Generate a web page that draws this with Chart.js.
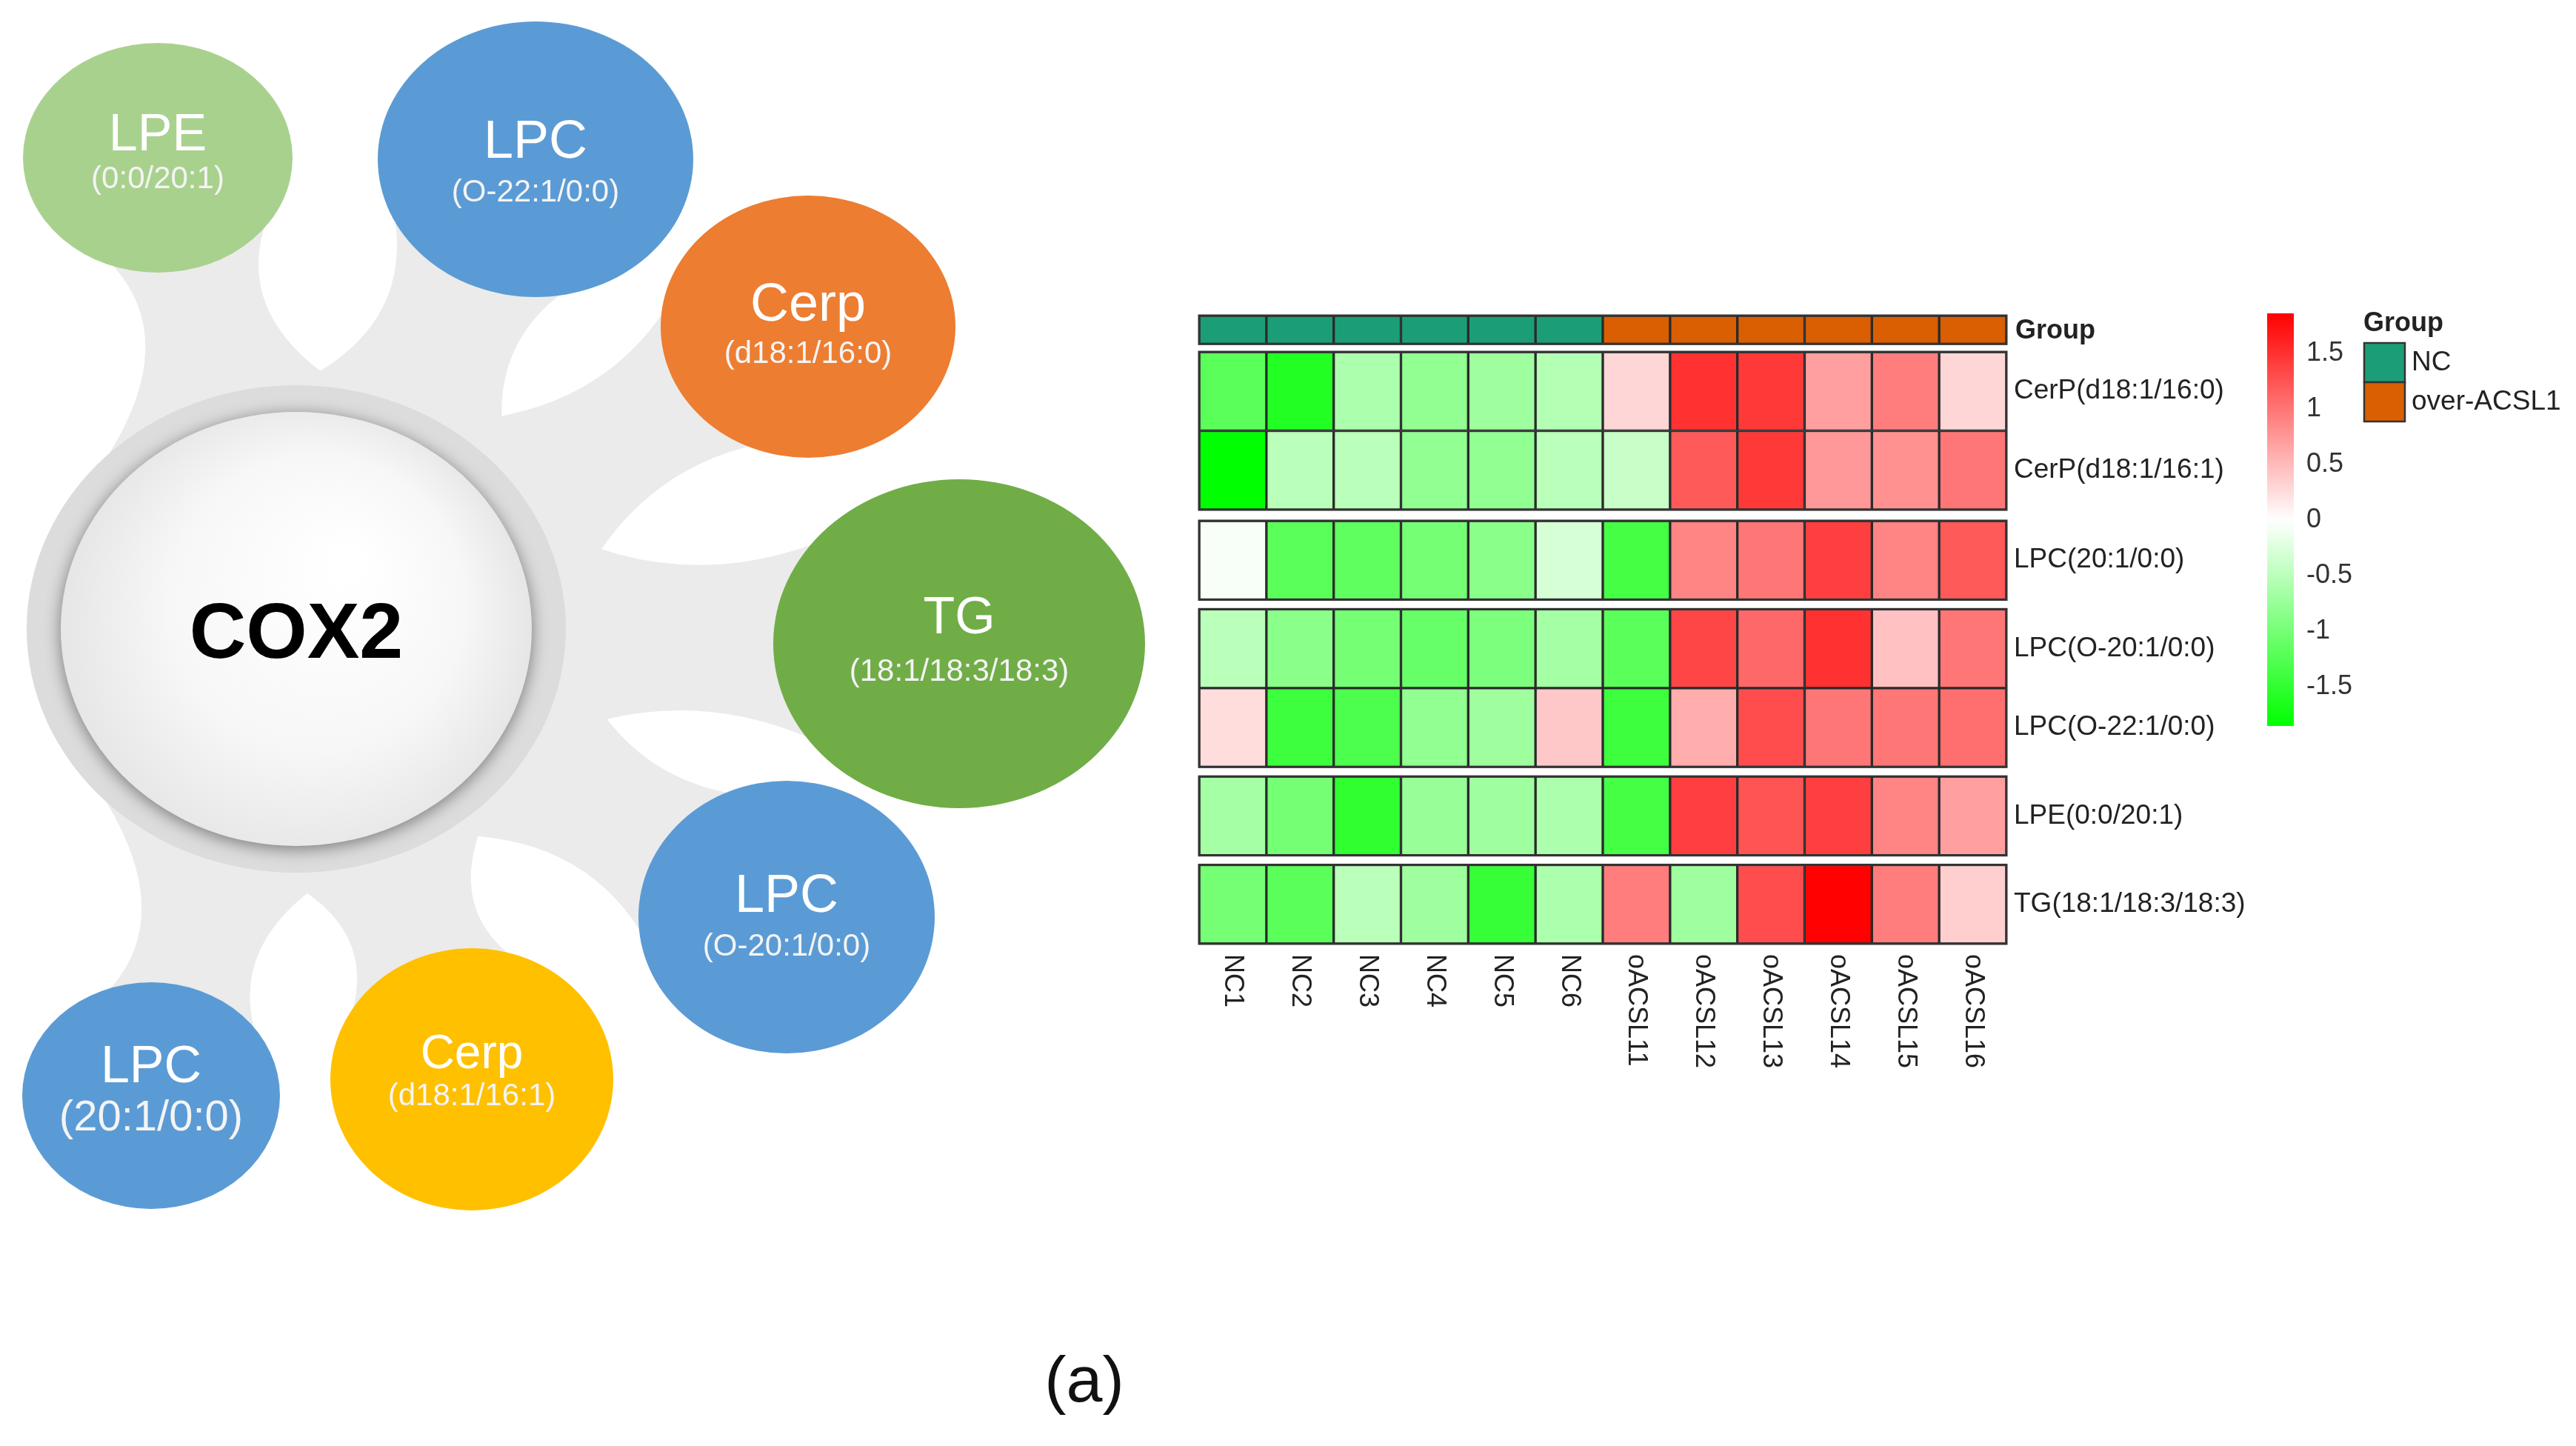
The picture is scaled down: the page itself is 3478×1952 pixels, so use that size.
<!DOCTYPE html>
<html>
<head>
<meta charset="utf-8">
<script src="https://cdn.jsdelivr.net/npm/chart.js@4.4.0/dist/chart.umd.min.js"></script>
<style>
  html, body { margin: 0; padding: 0; background: #fff; }
  canvas { display: block; }
</style>
</head>
<body>
<canvas id="fig" width="3478" height="1952"></canvas>
<script>
/* ---- heatmap data (row z-scores) ---- */
const samples = ["NC1", "NC2", "NC3", "NC4", "NC5", "NC6",
                 "oACSL11", "oACSL12", "oACSL13", "oACSL14", "oACSL15", "oACSL16"];
const sampleGroup = ["NC", "NC", "NC", "NC", "NC", "NC",
                     "over-ACSL1", "over-ACSL1", "over-ACSL1", "over-ACSL1", "over-ACSL1", "over-ACSL1"];
const groupNames = ["NC", "over-ACSL1"];
const groupColors = ["#1b9e77", "#d95f02"];
const lipids = ["CerP(d18:1/16:0)", "CerP(d18:1/16:1)", "LPC(20:1/0:0)", "LPC(O-20:1/0:0)",
                "LPC(O-22:1/0:0)", "LPE(0:0/20:1)", "TG(18:1/18:3/18:3)"];

const cerp160 = [-1.2, -1.6, -0.6, -0.8, -0.7, -0.55, 0.3, 1.5, 1.45, 0.7, 0.95, 0.3];
const cerp161 = [-1.85, -0.5, -0.5, -0.8, -0.8, -0.5, -0.4, 1.2, 1.45, 0.75, 0.8, 1.0];
const lpc201 = [-0.05, -1.2, -1.15, -1.0, -0.85, -0.3, -1.35, 0.9, 1.0, 1.4, 0.9, 1.2];
const lpcO201 = [-0.5, -0.85, -1.0, -1.1, -0.95, -0.65, -1.2, 1.35, 1.1, 1.5, 0.45, 1.0];
const lpcO221 = [0.25, -1.4, -1.3, -0.8, -0.7, 0.4, -1.4, 0.6, 1.3, 1.0, 1.0, 1.05];
const lpe201 = [-0.65, -1.0, -1.5, -0.75, -0.7, -0.6, -1.35, 1.4, 1.25, 1.4, 0.9, 0.7];
const tg181 = [-1.0, -1.2, -0.5, -0.7, -1.45, -0.6, 0.95, -0.7, 1.3, 1.85, 0.95, 0.35];
const zRows = [cerp160, cerp161, lpc201, lpcO201, lpcO221, lpe201, tg181];

const colorTicks = [1.5, 1, 0.5, 0, -0.5, -1, -1.5];
const zMin = -1.85, zMax = 1.86;

/* ---- network panel text ---- */
const hubLabel = "COX2";
const bubbleNames = ["LPE", "LPC", "Cerp", "TG", "LPC", "Cerp", "LPC"];
const bubbleSubs = ["(0:0/20:1)", "(O-22:1/0:0)", "(d18:1/16:0)", "(18:1/18:3/18:3)",
                    "(O-20:1/0:0)", "(d18:1/16:1)", "(20:1/0:0)"];
const bubbleColors = ["#a9d18e", "#5b9bd5", "#ed7d31", "#70ad47", "#5b9bd5", "#ffc000", "#5b9bd5"];

/* ---- layout (pixels / row units) ---- */
const FONT = "'Liberation Sans', Arial, sans-serif";
const groupSpan = [0, 0.36];
const rowSpans = [[0.46, 1.46], [1.46, 2.46], [2.60, 3.60], [3.72, 4.72], [4.72, 5.72], [5.84, 6.84], [6.96, 7.96]];
const blocks = [[0, 0.36], [0.46, 2.46], [2.60, 3.60], [3.72, 5.72], [5.84, 6.84], [6.96, 7.96]];
const hub = { x: 400, y: 849, rx: 364, ry: 329, irx: 318, iry: 293 };
const bubbleLayout = [
    { x: 213, y: 213, rx: 182, ry: 155, ts: 70, ss: 42, ty: 184, sy: 242 },
    { x: 723, y: 215, rx: 213, ry: 186, ts: 72, ss: 42, ty: 193, sy: 260 },
    { x: 1091, y: 441, rx: 199, ry: 177, ts: 72, ss: 42, ty: 413, sy: 478 },
    { x: 1295, y: 869, rx: 251, ry: 222, ts: 70, ss: 42, ty: 836, sy: 907 },
    { x: 1062, y: 1238, rx: 200, ry: 184, ts: 72, ss: 42, ty: 1211, sy: 1278 },
    { x: 637, y: 1457, rx: 191, ry: 177, ts: 64, ss: 42, ty: 1424, sy: 1480 },
    { x: 204, y: 1479, rx: 174, ry: 153, ts: 70, ss: 58, ty: 1442, sy: 1510 }
];
const colorBar = { x: 3061, w: 36, top: 423, bottom: 980, labelX: 3114 };

/* green - white - red ramp */
function zColor(v) {
    if (v >= 0) {
        const t = Math.min(1, v / zMax);
        const c = Math.round(255 * (1 - t));
        return `rgb(255,${c},${c})`;
    }
    const t = Math.min(1, v / zMin);
    const c = Math.round(255 * (1 - t));
    return `rgb(${c},255,${c})`;
}

/* one grey stem from the hub ring to a bubble */
function drawStem(ctx, b) {
    const th = Math.atan2(b.y - hub.y, b.x - hub.x);
    const a = 0.48, be = 0.62;
    const ux = Math.cos(th), uy = Math.sin(th);
    const nx = -uy, ny = ux;
    const p1 = [hub.x + hub.rx * Math.cos(th - a), hub.y + hub.ry * Math.sin(th - a)];
    const p2 = [hub.x + hub.rx * Math.cos(th + a), hub.y + hub.ry * Math.sin(th + a)];
    const back = th + Math.PI;
    const q1 = [b.x + b.rx * Math.cos(back + be), b.y + b.ry * Math.sin(back + be)];
    const q2 = [b.x + b.rx * Math.cos(back - be), b.y + b.ry * Math.sin(back - be)];
    const e1x = hub.x + hub.rx * ux, e1y = hub.y + hub.ry * uy;
    const e2x = b.x - b.rx * ux, e2y = b.y - b.ry * uy;
    const mx = (e1x + e2x) / 2, my = (e1y + e2y) / 2;
    const w = 0.26 * Math.min(b.rx, b.ry);
    ctx.beginPath();
    ctx.moveTo(p1[0], p1[1]);
    ctx.quadraticCurveTo(mx - nx * w, my - ny * w, q1[0], q1[1]);
    ctx.lineTo(b.x, b.y);
    ctx.lineTo(q2[0], q2[1]);
    ctx.quadraticCurveTo(mx + nx * w, my + ny * w, p2[0], p2[1]);
    ctx.lineTo(hub.x, hub.y);
    ctx.closePath();
    ctx.fill();
}

const networkPlugin = {
    id: "network",
    beforeDatasetsDraw(chart) {
        const ctx = chart.ctx;
        ctx.save();
        ctx.fillStyle = "#ebebeb";
        bubbleLayout.forEach(b => drawStem(ctx, b));

        /* hub ring + inner disc */
        ctx.fillStyle = "#dcdcdc";
        ctx.beginPath();
        ctx.ellipse(hub.x, hub.y, hub.rx, hub.ry, 0, 0, Math.PI * 2);
        ctx.fill();
        ctx.save();
        ctx.shadowColor = "rgba(0,0,0,0.45)";
        ctx.shadowBlur = 22;
        ctx.shadowOffsetY = 4;
        const g = ctx.createRadialGradient(hub.x + 70, hub.y - 90, 20, hub.x, hub.y, hub.irx);
        g.addColorStop(0, "#ffffff");
        g.addColorStop(0.6, "#f7f7f7");
        g.addColorStop(1, "#e6e6e6");
        ctx.fillStyle = g;
        ctx.beginPath();
        ctx.ellipse(hub.x, hub.y, hub.irx, hub.iry, 0, 0, Math.PI * 2);
        ctx.fill();
        ctx.restore();

        ctx.fillStyle = "#000";
        ctx.font = `bold 106px ${FONT}`;
        ctx.textAlign = "center";
        ctx.textBaseline = "middle";
        ctx.fillText(hubLabel, hub.x, hub.y + 10);

        /* bubbles */
        bubbleLayout.forEach((b, i) => {
            ctx.fillStyle = bubbleColors[i];
            ctx.beginPath();
            ctx.ellipse(b.x, b.y, b.rx, b.ry, 0, 0, Math.PI * 2);
            ctx.fill();
            ctx.fillStyle = "#ffffff";
            ctx.font = `${b.ts}px ${FONT}`;
            ctx.fillText(bubbleNames[i], b.x, b.ty);
            ctx.fillStyle = "#f4f4f4";
            ctx.font = `${b.ss}px ${FONT}`;
            ctx.fillText(bubbleSubs[i], b.x, b.sy);
        });

        ctx.fillStyle = "#111";
        ctx.font = `88px ${FONT}`;
        ctx.fillText("(a)", 1464, 1868);
        ctx.restore();
    }
};

const heatmapDecor = {
    id: "heatmapDecor",
    afterDatasetsDraw(chart) {
        const ctx = chart.ctx;
        const xs = chart.scales.x, ys = chart.scales.y;
        const area = chart.chartArea;
        ctx.save();

        /* block outlines */
        ctx.strokeStyle = "#333";
        ctx.lineWidth = 3;
        blocks.forEach(([a, b]) => {
            const y0 = ys.getPixelForValue(a), y1 = ys.getPixelForValue(b);
            ctx.strokeRect(area.left, y0, area.right - area.left, y1 - y0);
        });

        /* row labels */
        ctx.fillStyle = "#222";
        ctx.textAlign = "left";
        ctx.textBaseline = "middle";
        ctx.font = `bold 36px ${FONT}`;
        ctx.fillText("Group", area.right + 12, ys.getPixelForValue((groupSpan[0] + groupSpan[1]) / 2) + 2);
        ctx.font = `37px ${FONT}`;
        lipids.forEach((name, i) => {
            const yc = ys.getPixelForValue((rowSpans[i][0] + rowSpans[i][1]) / 2);
            ctx.fillText(name, area.right + 10, yc);
        });

        /* column labels, rotated */
        ctx.font = `36px ${FONT}`;
        samples.forEach((s, i) => {
            ctx.save();
            ctx.translate(xs.getPixelForValue(i), area.bottom + 14);
            ctx.rotate(Math.PI / 2);
            ctx.textAlign = "left";
            ctx.textBaseline = "middle";
            ctx.fillText(s, 0, 0);
            ctx.restore();
        });

        /* colour bar */
        const cb = colorBar;
        const grad = ctx.createLinearGradient(0, cb.top, 0, cb.bottom);
        for (let k = 0; k <= 40; k++) {
            const v = zMax - (zMax - zMin) * k / 40;
            grad.addColorStop(k / 40, zColor(v));
        }
        ctx.fillStyle = grad;
        ctx.fillRect(cb.x, cb.top, cb.w, cb.bottom - cb.top);
        ctx.fillStyle = "#333";
        ctx.font = `36px ${FONT}`;
        colorTicks.forEach(v => {
            const y = cb.top + (zMax - v) / (zMax - zMin) * (cb.bottom - cb.top);
            ctx.fillText(String(v), cb.labelX, y);
        });

        /* group legend */
        ctx.fillStyle = "#222";
        ctx.font = `bold 36px ${FONT}`;
        ctx.fillText("Group", 3191, 437);
        ctx.font = `37px ${FONT}`;
        groupNames.forEach((gname, i) => {
            const y = 463 + i * 53;
            ctx.fillStyle = groupColors[i];
            ctx.fillRect(3192, y, 55, 53);
            ctx.strokeStyle = "#333";
            ctx.lineWidth = 2.5;
            ctx.strokeRect(3192, y, 55, 53);
            ctx.fillStyle = "#222";
            ctx.fillText(gname, 3256, y + 27);
        });
        ctx.restore();
    }
};

const datasets = [{
    label: "Group",
    data: samples.map(() => groupSpan),
    backgroundColor: sampleGroup.map(g => groupColors[groupNames.indexOf(g)])
}].concat(zRows.map((row, i) => ({
    label: lipids[i],
    data: row.map(() => rowSpans[i]),
    backgroundColor: row.map(zColor)
})));

new Chart(document.getElementById("fig"), {
    type: "bar",
    data: { labels: samples, datasets: datasets },
    options: {
        responsive: false,
        devicePixelRatio: 1,
        animation: false,
        events: [],
        layout: { padding: { left: 1619, right: 769, top: 426, bottom: 678 } },
        datasets: {
            bar: {
                grouped: false,
                categoryPercentage: 1,
                barPercentage: 1,
                borderWidth: 2,
                borderColor: "#2a2a2a",
                borderSkipped: false
            }
        },
        scales: {
            x: { type: "category", display: false, offset: true },
            y: { type: "linear", display: false, reverse: true, min: 0, max: 7.96 }
        },
        plugins: { legend: { display: false }, tooltip: { enabled: false } }
    },
    plugins: [networkPlugin, heatmapDecor]
});
</script>
</body>
</html>
